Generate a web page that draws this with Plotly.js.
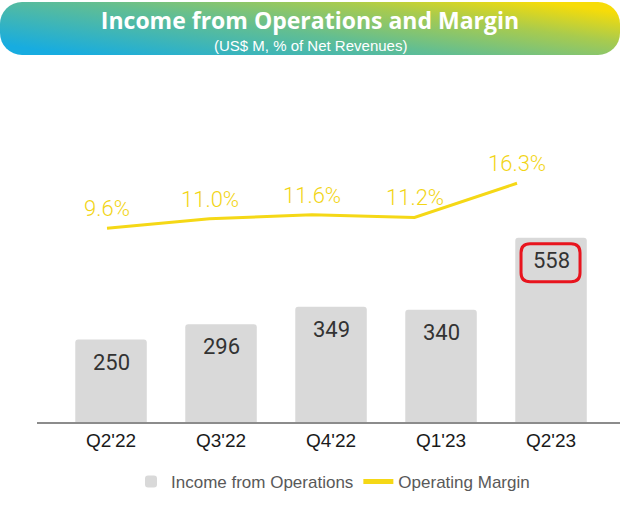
<!DOCTYPE html>
<html>
<head>
<meta charset="utf-8">
<script src="https://cdn.plot.ly/plotly-3.0.1.min.js"></script>
<style>html,body{margin:0;padding:0;background:#fff;}#chart{width:620px;height:513px;}</style>
</head>
<body>
<div id="chart"></div>
<script>
const quarters = ["Q2'22", "Q3'22", "Q4'22", "Q1'23", "Q2'23"];
const incomeFromOps = [250, 296, 349, 340, 558];
const operatingMargin = [9.6, 11.0, 11.6, 11.2, 16.3];
const marginLabels = ["9.6%", "11.0%", "11.6%", "11.2%", "16.3%"];
const highlightedQuarter = "Q2'23";

const W = 620, H = 513, L = 37, R = 0, T = 150, B = 91;
const plotW = W - L - R, plotH = H - T - B;

const bannerSvg = "<svg xmlns='http://www.w3.org/2000/svg' width='620' height='56' viewBox='0 0 620 56'>" +
  "<defs><linearGradient id='g' x1='0' y1='0.8' x2='1' y2='0.2'>" +
  "<stop offset='0' stop-color='#17ACE0'/><stop offset='0.45' stop-color='#62BE92'/>" +
  "<stop offset='0.75' stop-color='#A8CB4E'/><stop offset='1' stop-color='#F7DC08'/></linearGradient></defs>" +
  "<rect x='0' y='2' width='620' height='53' rx='22' ry='22' fill='url(#g)'/></svg>";
const bannerUri = "data:image/svg+xml;charset=utf-8," + encodeURIComponent(bannerSvg);

const barTrace = {
  type: 'bar', x: quarters, y: incomeFromOps, name: 'Income from Operations',
  marker: {color: '#D9D9D9', cornerradius: 3}, width: 0.65, xaxis: 'x', yaxis: 'y', hoverinfo: 'skip'
};
const lineTrace = {
  type: 'scatter', mode: 'lines', x: quarters, y: operatingMargin, name: 'Operating Margin',
  line: {color: '#F5D816', width: 3}, xaxis: 'x2', yaxis: 'y2', hoverinfo: 'skip', cliponaxis: false
};

const barAnnotations = quarters.map((q, i) => ({
  x: q, y: incomeFromOps[i], xref: 'x', yref: 'y', text: String(incomeFromOps[i]),
  showarrow: false, yanchor: 'top', yshift: -8,
  font: {family: 'Roboto, sans-serif', size: 22, color: '#333333'}
}));
const marginAnnotations = quarters.map((q, i) => ({
  x: q, y: operatingMargin[i], xref: 'x2', yref: 'y2', text: marginLabels[i],
  showarrow: false, yanchor: 'bottom', yshift: 5,
  font: {family: 'Roboto, sans-serif', size: 22, color: '#F2D516', weight: 300}
}));

const layout = {
  width: W, height: H, margin: {l: L, r: R, t: T, b: B},
  paper_bgcolor: '#ffffff', plot_bgcolor: 'rgba(0,0,0,0)',
  showlegend: true,
  legend: {orientation: 'h', x: (333 - L) / plotW, xanchor: 'center', y: -0.22, yanchor: 'middle',
    font: {family: 'Liberation Sans, Arial, sans-serif', size: 17, color: '#595959'}, itemsizing: 'constant'},
  title: {text: 'Income from Operations and Margin', x: 310 / W, xref: 'container', xanchor: 'center',
    y: 1 - 21 / H, yref: 'container', yanchor: 'middle',
    font: {family: 'Open Sans, sans-serif', size: 23, color: '#ffffff', weight: 'bold'}},
  xaxis: {type: 'category', categoryarray: quarters, range: [-0.673, -0.673 + plotW / 110],
    showgrid: false, zeroline: false, showline: true, linecolor: '#8C8C8C', linewidth: 2,
    ticks: '', tickfont: {family: 'Liberation Sans, Arial, sans-serif', size: 19, color: '#1a1a1a'}, fixedrange: true},
  xaxis2: {type: 'category', categoryarray: quarters, overlaying: 'x', range: [-0.683, -0.683 + plotW / 102.5],
    visible: false, fixedrange: true},
  yaxis: {range: [0, plotH / 0.33], visible: false, fixedrange: true},
  yaxis2: {overlaying: 'y', range: [-(422 - 292.5) / 6.7, (292.5 - T) / 6.7], visible: false, fixedrange: true},
  images: [{source: bannerUri, xref: 'paper', yref: 'paper', x: -L / plotW, y: (H - B) / plotH,
    sizex: W / plotW, sizey: 56 / plotH, sizing: 'stretch', xanchor: 'left', yanchor: 'top', layer: 'below'}],
  annotations: barAnnotations.concat(marginAnnotations, [{
    text: '(US$ M, % of Net Revenues)', xref: 'paper', yref: 'paper',
    x: (310 - L) / plotW, y: (H - B - 45) / plotH, xanchor: 'center', yanchor: 'middle', showarrow: false,
    font: {family: 'Liberation Sans, Arial, sans-serif', size: 15, color: '#ffffff'}
  }]),
  shapes: [{
    type: 'path', xref: 'x', yref: 'y', xsizemode: 'pixel', ysizemode: 'pixel',
    xanchor: highlightedQuarter, yanchor: incomeFromOps[quarters.indexOf(highlightedQuarter)],
    path: 'M -21,-6 L 20,-6 Q 29,-6 29,-15 L 29,-35 Q 29,-44 20,-44 L -21,-44 Q -30,-44 -30,-35 L -30,-15 Q -30,-6 -21,-6 Z',
    line: {color: '#E8141E', width: 3}, fillcolor: 'rgba(0,0,0,0)', layer: 'above'
  }]
};

Plotly.newPlot('chart', [barTrace, lineTrace], layout, {displayModeBar: false, staticPlot: true});
</script>
</body>
</html>
